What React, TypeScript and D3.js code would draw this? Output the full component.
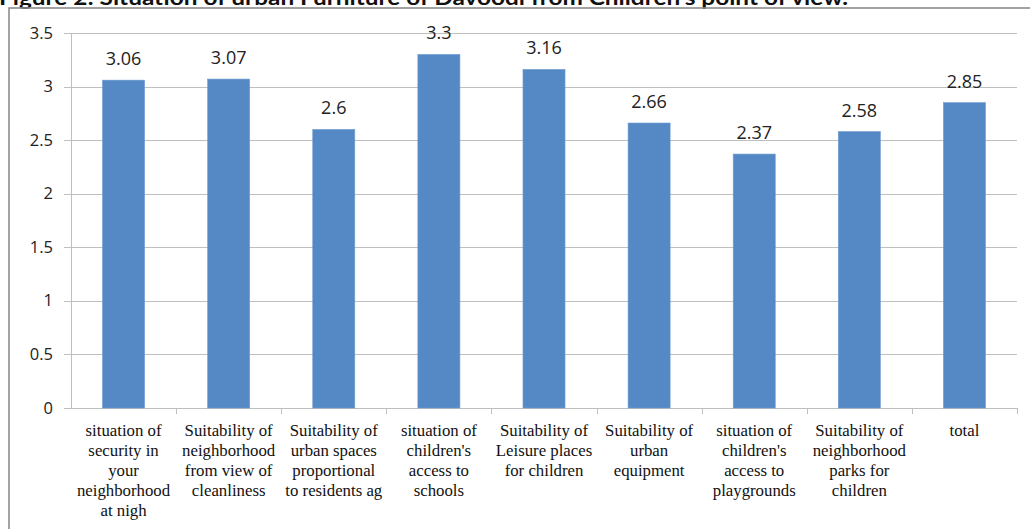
import React from "react";
import * as d3 from "d3";

const categories: string[][] = [
  ["situation of", "security in", "your", "neighborhood", "at nigh"],
  ["Suitability of", "neighborhood", "from view of", "cleanliness"],
  ["Suitability of", "urban spaces", "proportional", "to residents ag"],
  ["situation of", "children's", "access to", "schools"],
  ["Suitability of", "Leisure places", "for children"],
  ["Suitability of", "urban", "equipment"],
  ["situation of", "children's", "access to", "playgrounds"],
  ["Suitability of", "neighborhood", "parks for", "children"],
  ["total"],
];
const values: number[] = [3.06, 3.07, 2.6, 3.3, 3.16, 2.66, 2.37, 2.58, 2.85];
const valueLabels: string[] = ["3.06", "3.07", "2.6", "3.3", "3.16", "2.66", "2.37", "2.58", "2.85"];
const yTicks: number[] = [0, 0.5, 1, 1.5, 2, 2.5, 3, 3.5];
const yTickLabels: string[] = ["0", "0.5", "1", "1.5", "2", "2.5", "3", "3.5"];

const W = 1030;
const H = 529;
const left = 71;
const right = 1017;
const top = 33;
const bottom = 408;

export default function App() {
  const idx = categories.map((_, i) => String(i));
  const x = d3.scaleBand<string>().domain(idx).range([left, right]).paddingInner(0.6).paddingOuter(0.3);
  const xb = d3.scaleBand<string>().domain(idx).range([left, right]);
  const y = d3.scaleLinear().domain([0, 3.5]).range([bottom, top]);
  const grid = "#bfbfbf";
  const sans = "'Open Sans', 'Noto Sans', sans-serif";
  const serif = "'Liberation Serif', 'Times New Roman', serif";

  return (
    <svg width={W} height={H} style={{ position: "absolute", left: 0, top: 0 }}>
      <rect x={0} y={0} width={W} height={H} fill="#fff" />
      <text x={-1} y={5} fontFamily="Lato, sans-serif" fontSize={20} fill="#111" textLength={849} lengthAdjust="spacingAndGlyphs">
        <tspan fontWeight="bold">Figure 2:</tspan>
        <tspan fontWeight="bold"> Situation of urban Furniture of Davoodi from Children's point of view.</tspan>
      </text>
      <rect x={9} y={8} width={W + 20} height={H + 20} fill="none" stroke="#8c8c8c" strokeWidth={1.6} />
      {yTicks.map((t, i) => (
        <g key={"g" + i}>
          <line x1={left - 7} x2={i === 0 ? left : right} y1={Math.round(y(t)) + 0.5} y2={Math.round(y(t)) + 0.5} stroke={grid} strokeWidth={1} />
          <text x={53} y={y(t) + 5.5} textAnchor="end" fontFamily={sans} fontSize={16.5} fill="#222">
            {yTickLabels[i]}
          </text>
        </g>
      ))}
      <line x1={left + 0.5} x2={left + 0.5} y1={top} y2={bottom} stroke={grid} />
      <line x1={left} x2={right} y1={bottom + 0.5} y2={bottom + 0.5} stroke={grid} />
      {idx.map((k, i) => (
        <line key={"t" + i} x1={Math.round(xb(k)! + xb.bandwidth()) + 0.5} x2={Math.round(xb(k)! + xb.bandwidth()) + 0.5} y1={bottom} y2={bottom + 6} stroke={grid} />
      ))}
      {values.map((v, i) => (
        <g key={"b" + i}>
          <rect x={x(String(i))!} y={y(v)} width={x.bandwidth()} height={bottom - y(v)} fill="#5589c5" stroke="#6f9bd0" strokeWidth={0.6} />
          <text x={x(String(i))! + x.bandwidth() / 2} y={y(v) - 15} textAnchor="middle" fontFamily={sans} fontSize={18} fill="#222">
            {valueLabels[i]}
          </text>
        </g>
      ))}
      {categories.map((lines, i) => (
        <text key={"c" + i} textAnchor="middle" fontFamily={serif} fontSize={16.8} fill="#111">
          {lines.map((ln, j) => (
            <tspan key={j} x={xb(String(i))! + xb.bandwidth() / 2} y={436 + j * 20}>
              {ln}
            </tspan>
          ))}
        </text>
      ))}
    </svg>
  );
}
